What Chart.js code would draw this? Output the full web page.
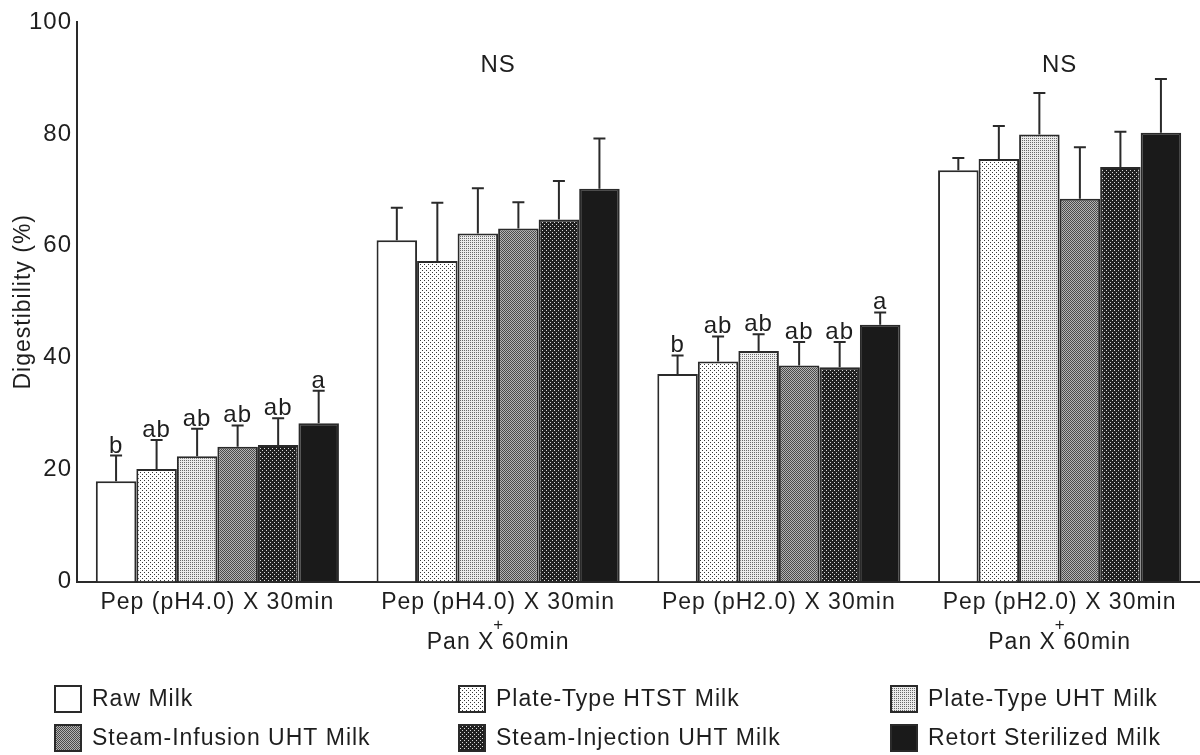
<!DOCTYPE html>
<html>
<head>
<meta charset="utf-8">
<script src="https://cdn.jsdelivr.net/npm/chart.js@4.4.1/dist/chart.umd.min.js"></script>
<style>
  html, body { margin: 0; padding: 0; background: #fff; }
  #wrap { width: 1200px; height: 755px; }
</style>
</head>
<body>
<div id="wrap"><canvas id="digestChart"></canvas></div>
<script>
// digestion conditions (x categories); the '+' between lines is drawn smaller below
const conditions = [
    ['Pep (pH4.0) X 30min'],
    ['Pep (pH4.0) X 30min', '', 'Pan X 60min'],
    ['Pep (pH2.0) X 30min'],
    ['Pep (pH2.0) X 30min', '', 'Pan X 60min']
];
const milkTypes = ['Raw Milk', 'Plate-Type HTST Milk', 'Plate-Type UHT Milk',
    'Steam-Infusion UHT Milk', 'Steam-Injection UHT Milk', 'Retort Sterilized Milk'];

// mean digestibility (%) per milk type, one value per condition
const rawMilk       = [17.9, 61.0, 37.1, 73.5];
const htstMilk      = [20.1, 57.3, 39.3, 75.5];
const plateUhtMilk  = [22.4, 62.2, 41.2, 79.9];
const infusionMilk  = [24.1, 63.1, 38.6, 68.4];
const injectionMilk = [24.4, 64.7, 38.3, 74.1];
const retortMilk    = [28.3, 70.2, 45.9, 80.2];

// standard deviations (only the upper whisker is drawn)
const rawErr       = [4.6, 5.8, 3.3, 2.2];
const htstErr      = [5.2, 10.4, 4.5, 5.9];
const plateUhtErr  = [4.9, 8.1, 3.0, 7.4];
const infusionErr  = [3.8, 4.7, 4.2, 9.2];
const injectionErr = [4.8, 6.9, 4.5, 6.3];
const retortErr    = [5.8, 9.0, 2.2, 9.6];

// significance letters per condition (null = not significant -> NS)
const sigLetters = [
    ['b', 'ab', 'ab', 'ab', 'ab', 'a'],
    null,
    ['b', 'ab', 'ab', 'ab', 'ab', 'a'],
    null
];
const plusConditions = [1, 3];
const nsLevel = 92.3;

const yTicks = [0, 20, 40, 60, 80, 100];

const FONT = '"Liberation Sans", Arial, Helvetica, sans-serif';
const INK = '#1e1e1e';

// small dot textures like the printed figure
function makePattern(size, bg, dots, dotColor) {
    const c = document.createElement('canvas');
    c.width = size; c.height = size;
    const g = c.getContext('2d');
    g.fillStyle = bg;
    g.fillRect(0, 0, size, size);
    g.fillStyle = dotColor;
    dots.forEach(d => g.fillRect(d[0], d[1], 1, 1));
    return g.createPattern(c, 'repeat');
}

const fills = [
    '#ffffff',
    makePattern(4, '#ffffff', [[0, 0], [2, 2]], '#3a3a3a'),
    makePattern(2, '#ececec', [[0, 0]], '#6a6a6a'),
    makePattern(2, '#b4b4b4', [[0, 0], [1, 1]], '#4a4a4a'),
    makePattern(4, '#202020', [[0, 0], [2, 2]], '#d8d8d8'),
    '#1a1a1a'
];

const seriesValues = [rawMilk, htstMilk, plateUhtMilk, infusionMilk, injectionMilk, retortMilk];
const seriesErrors = [rawErr, htstErr, plateUhtErr, infusionErr, injectionErr, retortErr];

const datasets = milkTypes.map((name, i) => ({
    label: name,
    data: seriesValues[i],
    errors: seriesErrors[i],
    backgroundColor: fills[i],
    borderColor: '#2a2a2a',
    borderWidth: 2,
    borderSkipped: 'bottom',
    categoryPercentage: 0.866,
    barPercentage: 1.0
}));

// the figure's lettering is a bit wider than plain Arial
const textSpacing = {
    id: 'textSpacing',
    beforeDraw(chart) { chart.ctx.letterSpacing = '1px'; }
};

// whiskers, letters, NS marks and the small '+'
const errorBars = {
    id: 'errorBars',
    afterDatasetsDraw(chart) {
        const ctx = chart.ctx;
        const y = chart.scales.y;
        const x = chart.scales.x;
        ctx.save();
        ctx.strokeStyle = '#2a2a2a';
        ctx.lineWidth = 2;
        ctx.fillStyle = INK;
        ctx.font = '24px ' + FONT;
        ctx.textAlign = 'center';
        ctx.textBaseline = 'alphabetic';
        chart.data.datasets.forEach((ds, di) => {
            chart.getDatasetMeta(di).data.forEach((bar, i) => {
                const top = y.getPixelForValue(ds.data[i] + ds.errors[i]);
                ctx.beginPath();
                ctx.moveTo(bar.x, bar.y);
                ctx.lineTo(bar.x, top);
                ctx.moveTo(bar.x - 6, top);
                ctx.lineTo(bar.x + 6, top);
                ctx.stroke();
                const l = sigLetters[i] && sigLetters[i][di];
                if (l) ctx.fillText(l, bar.x, top - 3);
            });
        });
        ctx.textBaseline = 'middle';
        sigLetters.forEach((s, i) => {
            if (!s) ctx.fillText('NS', x.getPixelForValue(i), y.getPixelForValue(nsLevel));
        });
        ctx.font = '17px ' + FONT;
        ctx.letterSpacing = '0px';
        plusConditions.forEach(i => {
            ctx.fillText('+', x.getPixelForValue(i), y.bottom + 44);
        });
        ctx.restore();
    }
};

// legend in a 3 x 2 grid under the axis
const gridLegend = {
    id: 'gridLegend',
    afterDraw(chart) {
        const ctx = chart.ctx;
        const colX = [55, 459, 891];
        const rowY = [699, 738];
        ctx.save();
        ctx.font = '23px ' + FONT;
        ctx.textBaseline = 'middle';
        ctx.textAlign = 'left';
        milkTypes.forEach((name, i) => {
            const bx = colX[i % 3], by = rowY[Math.floor(i / 3)];
            ctx.fillStyle = fills[i];
            ctx.fillRect(bx, by - 13, 26, 26);
            ctx.strokeStyle = '#2a2a2a';
            ctx.lineWidth = 2;
            ctx.strokeRect(bx, by - 13, 26, 26);
            ctx.fillStyle = INK;
            ctx.fillText(name, bx + 37, by + 1);
        });
        ctx.restore();
    }
};

const chart = new Chart(document.getElementById('digestChart'), {
    type: 'bar',
    data: { labels: conditions, datasets: datasets },
    options: {
        responsive: true,
        maintainAspectRatio: false,
        animation: false,
        events: [],
        layout: { padding: { left: 4, right: 0, top: 22, bottom: 0 } },
        plugins: {
            legend: { display: false },
            tooltip: { enabled: false }
        },
        scales: {
            x: {
                grid: { display: false, drawTicks: false },
                border: { display: true, color: '#2a2a2a', width: 2 },
                ticks: {
                    color: INK,
                    padding: 11,
                    maxRotation: 0,
                    autoSkip: false,
                    font: { family: FONT, size: 23, lineHeight: '20px' }
                },
                afterFit(scale) { scale.height = 173.5; }
            },
            y: {
                min: 0,
                max: 100,
                grid: { display: false, drawTicks: false },
                border: { display: true, color: '#2a2a2a', width: 2 },
                afterBuildTicks(scale) { scale.ticks = yTicks.map(v => ({ value: v })); },
                ticks: {
                    color: INK,
                    padding: 5,
                    font: { family: FONT, size: 24 }
                },
                title: {
                    display: true,
                    text: 'Digestibility (%)',
                    color: INK,
                    font: { family: FONT, size: 23 },
                    padding: { top: 6, bottom: 4 }
                },
                afterFit(scale) { scale.width = 73; }
            }
        }
    },
    plugins: [textSpacing, errorBars, gridLegend]
});
</script>
</body>
</html>
